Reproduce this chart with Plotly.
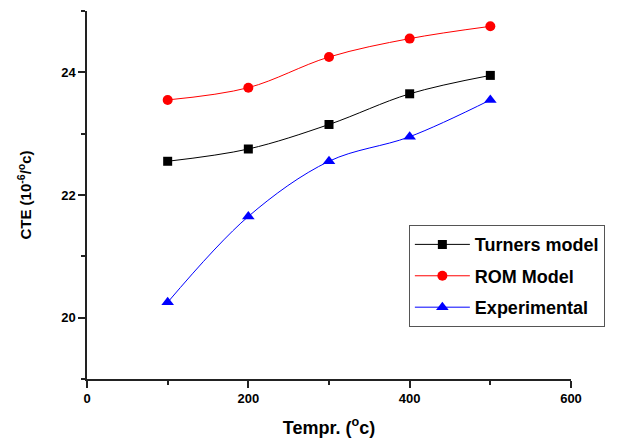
import plotly.graph_objects as go

temps = [100, 200, 300, 400, 500]
turners = [22.55, 22.75, 23.15, 23.65, 23.95]
rom = [23.55, 23.75, 24.25, 24.55, 24.75]
experimental = [20.25, 21.65, 22.55, 22.95, 23.55]

series = [
    ("Turners model", turners, "black", "square", 9),
    ("ROM Model", rom, "red", "circle", 10),
    ("Experimental", experimental, "blue", "triangle-up", 11),
]

fig = go.Figure()
for i, (name, vals, color, sym, size) in enumerate(series):
    fig.add_trace(go.Scatter(
        x=temps, y=vals, name=name, mode="lines+markers", legendgroup=f"g{i}",
        line=dict(color=color, width=1, shape="spline", smoothing=1.0),
        marker=dict(color=color, symbol=sym, size=size),
    ))

font_family = "Liberation Sans, Arial, sans-serif"
fig.update_layout(
    width=617, height=441,
    margin=dict(l=79, r=54, t=3, b=70),
    paper_bgcolor="white", plot_bgcolor="white",
    font=dict(family=font_family, color="black"),
    showlegend=True,
    legend=dict(
        x=0.665, y=0.418, xanchor="left", yanchor="top",
        bordercolor="#555", borderwidth=1, bgcolor="white",
        font=dict(size=18, family=font_family, weight="bold"),
        tracegroupgap=5, itemwidth=55,
    ),
    xaxis=dict(
        range=[0, 600], tickvals=[0, 200, 400, 600],
        ticks="outside", ticklen=7, tickwidth=1.5, tickcolor="#222",
        showline=True, linecolor="#222", linewidth=1.5,
        showgrid=False, zeroline=False,
        tickfont=dict(size=13, family=font_family, weight="bold"),
        minor=dict(tickvals=[100, 300, 500], ticks="outside", ticklen=4, tickcolor="#222", tickwidth=1.5, showgrid=False),
        title=dict(text="Tempr. (<sup>o</sup>c)", font=dict(size=18, family=font_family, weight="bold"), standoff=16),
    ),
    yaxis=dict(
        range=[19, 25], tickvals=[20, 22, 24],
        ticks="outside", ticklen=7, tickwidth=1.5, tickcolor="#222",
        showline=True, linecolor="#222", linewidth=1.5,
        showgrid=False, zeroline=False,
        tickfont=dict(size=13, family=font_family, weight="bold"),
        minor=dict(tickvals=[19, 21, 23, 25], ticks="outside", ticklen=4, tickcolor="#222", tickwidth=1.5, showgrid=False),
        title=dict(text="CTE (10<sup>-6</sup>/<sup>o</sup>c)", font=dict(size=15, family=font_family, weight="bold"), standoff=26),
    ),
)

fig.write_html("out.html")
